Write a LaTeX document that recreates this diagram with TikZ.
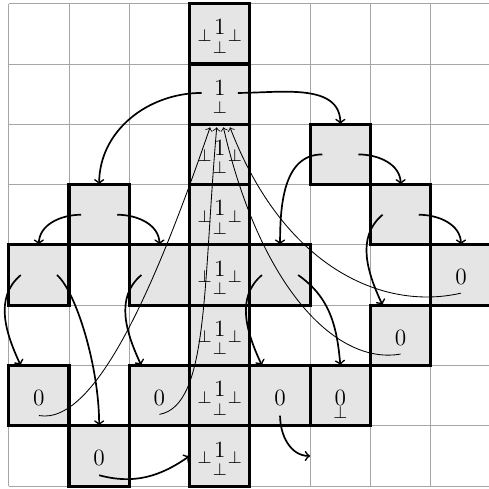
\documentclass[tikz,border=0pt]{standalone}
\usetikzlibrary{calc}
\begin{document}
\begin{tikzpicture}[
  box/.style={draw, line width=1.5pt, fill=gray!20, minimum size=1cm, inner sep=0pt, outer sep=0pt},
  big/.style={inner sep=0pt, font=\fontsize{11}{13}\selectfont},
  sm/.style={inner sep=0pt, font=\fontsize{8}{10}\selectfont},
  arr/.style={->, thick},
  thinarr/.style={->, line width=0.4pt},
]
\useasboundingbox (-0.1443,-0.048) rectangle (7.965,8.0614);
\draw[gray!70, line width=0.4pt] (0,0) grid (8,8);

% boxes
\foreach \r in {0,...,7} { \node[box] (c3r\r) at (3.5,7.5-\r) {}; }
\node[box] (c5r2) at (5.5,5.5) {};
\node[box] (c1r3) at (1.5,4.5) {};
\node[box] (c6r3) at (6.5,4.5) {};
\node[box] (c0r4) at (0.5,3.5) {};
\node[box] (c2r4) at (2.5,3.5) {};
\node[box] (c4r4) at (4.5,3.5) {};
\node[box] (c7r4) at (7.5,3.5) {};
\node[box] (c6r5) at (6.5,2.5) {};
\node[box] (c0r6) at (0.5,1.5) {};
\node[box] (c2r6) at (2.5,1.5) {};
\node[box] (c4r6) at (4.5,1.5) {};
\node[box] (c5r6) at (5.5,1.5) {};
\node[box] (c1r7) at (1.5,0.5) {};

% labels in column 3
\foreach \r in {0,2,3,4,5,6,7} {
  \node[big] (one\r) at (3.5,7.61-\r) {1};
  \node[sm] (pl\r) at (3.25,7.475-\r) {$\perp$};
  \node[sm] (pr\r) at (3.75,7.475-\r) {$\perp$};
  \node[sm] (pb\r) at (3.5,7.275-\r) {$\perp$};
}
\node[big] (one1) at (3.5,6.6) {1};
\node[sm] (pb1) at (3.5,6.275) {$\perp$};

% zeros
\node[big] (z74) at (7.5,3.46) {0};
\node[big] (z65) at (6.5,2.46) {0};
\node[big] (z06) at (0.5,1.46) {0};
\node[big] (z26) at (2.5,1.46) {0};
\node[big] (z46) at (4.5,1.46) {0};
\node[big] (z56) at (5.5,1.46) {0};
\node[sm] (pb56) at (5.5,1.22) {$\perp$};
\node[big] (z17) at (1.5,0.46) {0};

% free end and thin-arrow ends
\coordinate (free) at (5,0.5);
\coordinate (tA) at ($(c3r2.north)+(-0.16,-0.05)$);
\coordinate (tB) at ($(c3r2.north)+(-0.05,-0.05)$);
\coordinate (tE) at ($(c3r2.north)+(0.06,-0.05)$);
\coordinate (tD) at ($(c3r2.north)+(0.17,-0.05)$);

% thick arrows
\draw[arr] ($(c3r1)+(-0.3,0.02)$) to[out=180,in=90] (c1r3.north);
\draw[arr] ($(c3r1)+(0.3,0.02)$) to[out=0,in=90] (c5r2.north);
\draw[arr] ($(c5r2)+(-0.3,0)$) to[out=180,in=90] (c4r4.north);
\draw[arr] ($(c5r2)+(0.3,0)$) to[out=0,in=90] (c6r3.north);
\draw[arr] ($(c6r3)+(-0.3,0)$) to[out=220,in=115] ($(c6r5.north)+(-0.3,0)$);
\draw[arr] ($(c6r3)+(0.3,0)$) to[out=0,in=90] (c7r4.north);
\draw[arr] ($(c1r3)+(-0.3,0)$) to[out=180,in=90] (c0r4.north);
\draw[arr] ($(c1r3)+(0.3,0)$) to[out=0,in=90] (c2r4.north);
\draw[arr] ($(c0r4)+(-0.3,0)$) to[out=220,in=115] ($(c0r6.north)+(-0.3,0)$);
\draw[arr] ($(c0r4)+(0.3,0)$) .. controls +(-40:0.4) and +(90:1.0) .. (c1r7.north);
\draw[arr] ($(c2r4)+(-0.3,0)$) to[out=220,in=115] ($(c2r6.north)+(-0.3,0)$);
\draw[arr] ($(c4r4)+(-0.3,0)$) to[out=220,in=115] ($(c4r6.north)+(-0.3,0)$);
\draw[arr] ($(c4r4)+(0.3,0)$) to[out=-35,in=95] (c5r6.north);
\draw[arr] ($(c4r6)+(0,-0.33)$) to[out=-90,in=180] (free);
\draw[arr] ($(c1r7)+(0,-0.32)$) to[out=-15,in=215] (c3r7.west);

% thin arrows back to the top
\draw[thinarr] ($(c0r6)+(0,-0.33)$) .. controls +(-10:1.0) and +(-109:2.5) .. (tA);
\draw[thinarr] ($(c2r6)+(0,-0.31)$) .. controls +(10:0.83) and +(-95:2.65) .. (tB);
\draw[thinarr] ($(c6r5)+(0,-0.31)$) .. controls +(190:1.08) and +(-77:2.74) .. (tE);
\draw[thinarr] ($(c7r4)+(0,-0.3)$) .. controls +(193:1.33) and +(-69:2.49) .. (tD);
\end{tikzpicture}
\end{document}
